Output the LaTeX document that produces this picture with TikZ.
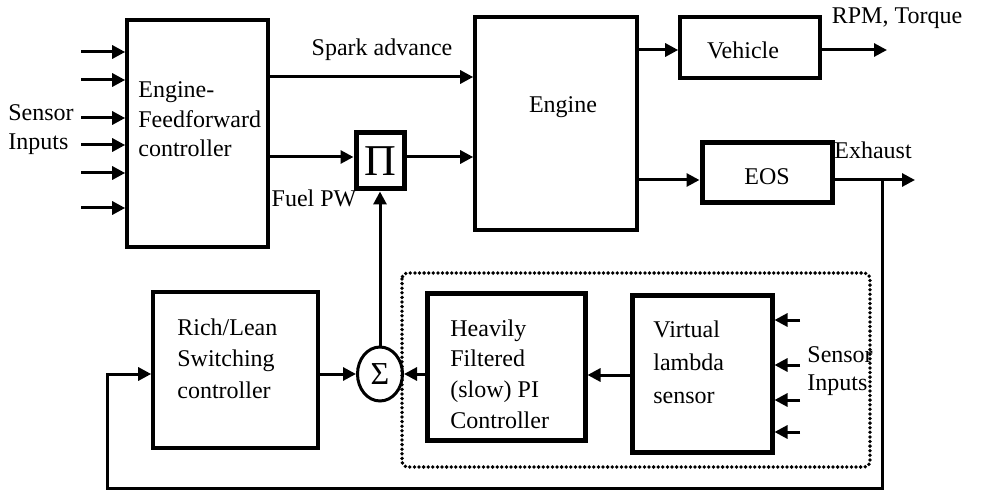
\documentclass[tikz,border=0pt]{standalone}
\usepackage{fontspec}
\setmainfont{Liberation Serif}
\usetikzlibrary{arrows.meta,shapes.geometric}
\begin{document}
\begin{tikzpicture}[x=0.5pt,y=-0.5pt,
 box/.style={draw, line width=1.8pt, inner sep=0pt},
 thickbox/.style={draw, line width=2.5pt, inner sep=0pt},
 arr/.style={line width=1.5pt, -{Triangle[length=6.5pt,width=6.5pt]}},
 txt/.style={font=\fontsize{12}{15}\selectfont, inner sep=0pt},
 lt/.style={txt, align=left, anchor=west}]
\useasboundingbox (0,0) rectangle (986,492);
% boxes
\node[box, minimum width=70.5pt, minimum height=113.5pt] (ff) at (197.5,133.5) {};
\node[box, minimum width=81pt, minimum height=106.5pt] (eng) at (556,123.5) {};
\node[box, minimum width=70pt, minimum height=30.5pt] (veh) at (750,47.5) {};
\node[thickbox, minimum width=65pt, minimum height=30pt] (eos) at (767,173) {};
\node[thickbox, minimum width=24pt, minimum height=28pt] (pi) at (380,161) {};
\node[box, minimum width=82.5pt, minimum height=78pt] (rl) at (235.5,370) {};
\node[draw, ellipse, line width=1.5pt, minimum width=22.5pt, minimum height=27pt, inner sep=0pt] (sig) at (380,374) {};
\node[thickbox, minimum width=79pt, minimum height=73.5pt] (pic) at (506,366.5) {};
\node[thickbox, minimum width=70pt, minimum height=78.5pt] (vl) at (702,373.5) {};
% dotted group
\draw[line width=1.9pt, dash pattern=on 0pt off 2.3pt, line cap=round, rounded corners=3pt] (402,273) rectangle (870,467);
% texts
\node[lt, font=\fontsize{12}{14.75}\selectfont] (fft) at (138,119.5) {Engine-\\Feedforward\\controller};
\node[txt] (engt) at (563,107) {Engine};
\node[txt] (veht) at (743,50) {Vehicle};
\node[txt] (eost) at (767,177) {EOS};
\node[inner sep=0pt, font=\fontsize{22}{22}\selectfont] (pit) at (pi) {Π};
\node[inner sep=0pt, font=\fontsize{16}{16}\selectfont] (sigt) at (sig) {Σ};
\node[lt, font=\fontsize{12}{15.75}\selectfont] (rlt) at (177,358.5) {Rich/Lean\\Switching\\controller};
\node[lt, font=\fontsize{12}{15.3}\selectfont] (pict) at (450,374) {Heavily\\Filtered\\(slow) PI\\Controller};
\node[lt, font=\fontsize{12}{16.5}\selectfont] (vlt) at (653,362) {Virtual\\lambda\\sensor};
\node[lt, font=\fontsize{12}{14.5}\selectfont] (sinl) at (8,129.5) {Sensor\\Inputs};
\node[lt, font=\fontsize{12}{14}\selectfont] (sinr) at (807,371) {Sensor\\Inputs};
\node[txt] (sat) at (382,50) {Spark advance};
\node[txt] (fpw) at (314,198) {Fuel PW};
\node[txt] (rpmt) at (897,18) {RPM, Torque};
\node[txt] (exht) at (873,150) {Exhaust};
% left inputs
\foreach \y [count=\i] in {52,80,118,145,173,208} {
  \coordinate (in\i) at (81,\y);
  \draw[arr] (in\i) -- (in\i -| ff.west);
}
% right inputs
\foreach \y [count=\i] in {320,365,400,432} {
  \coordinate (rin\i) at (800,\y);
  \draw[arr] (rin\i) -- (rin\i -| vl.east);
}
% connectors
\coordinate (ya) at (0,77);
\coordinate (yf) at (0,157);
\coordinate (yv) at (0,50);
\coordinate (ye) at (0,180);
\coordinate (yl) at (0,375);
\coordinate (rpm) at (887,50);
\coordinate (exh) at (915,180);
\coordinate (br) at (882,180);
\coordinate (fb) at (107,488);
\draw[arr] (ff.east |- ya) -- (eng.west |- ya);
\draw[arr] (ff.east |- yf) -- (pi.west |- yf);
\draw[arr] (pi.east |- yf) -- (eng.west |- yf);
\draw[arr] (eng.east |- yv) -- (veh.west |- yv);
\draw[arr] (veh.east |- yv) -- (rpm);
\draw[arr] (eng.east |- ye) -- (eos.west |- ye);
\draw[arr] (eos.east |- ye) -- (exh);
\draw[arr] (br) |- (fb) |- (rl.west |- sig);
\draw[arr] (rl.east |- sig) -- (sig.west);
\draw[arr] (pic.west |- sig) -- (sig.east);
\draw[arr] (vl.west |- yl) -- (pic.east |- yl);
\draw[arr] (sig.north) -- (pi.south);
\end{tikzpicture}
\end{document}
